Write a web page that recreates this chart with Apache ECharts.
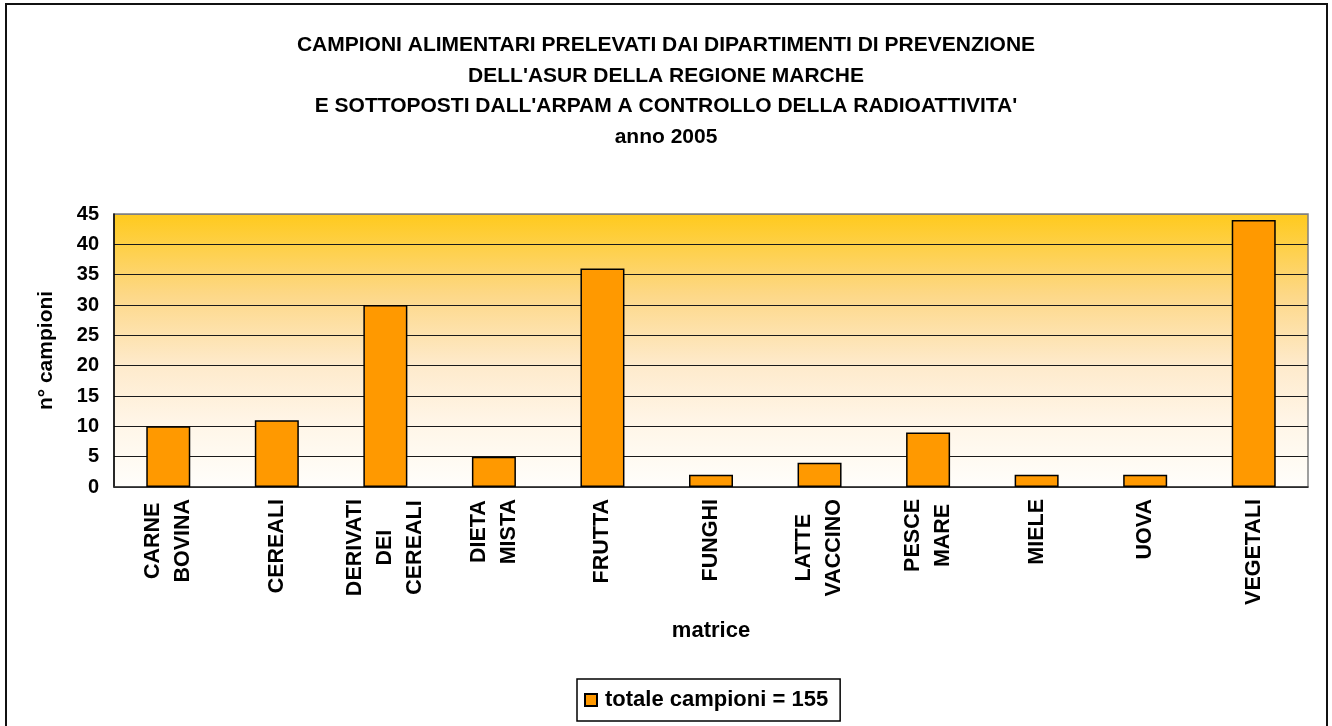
<!DOCTYPE html>
<html>
<head>
<meta charset="utf-8">
<title>Campioni alimentari 2005</title>
<script src="https://cdn.jsdelivr.net/npm/echarts@6/dist/echarts.min.js"></script>
<style>
  html, body { margin: 0; padding: 0; background: #fff; }
  #chart { width: 1332px; height: 726px; }
</style>
</head>
<body>
<div id="chart"></div>
<script>
// categorie (matrice) e numero di campioni
const categories = [
  'CARNE\nBOVINA', 'CEREALI', 'DERIVATI\nDEI\nCEREALI', 'DIETA\nMISTA', 'FRUTTA',
  'FUNGHI', 'LATTE\nVACCINO', 'PESCE\nMARE', 'MIELE', 'UOVA', 'VEGETALI'
]
const campioni = [10, 11, 30, 5, 36, 2, 4, 9, 2, 2, 44]
const yTicks = [0, 5, 10, 15, 20, 25, 30, 35, 40, 45]

const titleLines = [
  'CAMPIONI ALIMENTARI PRELEVATI DAI DIPARTIMENTI DI PREVENZIONE',
  "DELL'ASUR DELLA REGIONE MARCHE",
  "E SOTTOPOSTI DALL'ARPAM A CONTROLLO DELLA RADIOATTIVITA'",
  'anno 2005'
]
const seriesName = 'totale campioni = 155'

const font = '"Liberation Sans", Arial, Helvetica, sans-serif'

const chart = echarts.init(document.getElementById('chart'))

// split lines: dark, the top one grey like the plot border
const splitColors = yTicks.map((v, i) => (i === yTicks.length - 1 ? '#808080' : '#1a1a1a'))

const option = {
  backgroundColor: '#fff',
  animation: false,
  textStyle: { fontFamily: font },
  title: {
    text: titleLines.join('\n'),
    left: 'center',
    top: 25,
    textStyle: {
      fontFamily: font,
      fontSize: 21,
      fontWeight: 'bold',
      color: '#000',
      lineHeight: 30.5,
    },
  },
  graphic: [
    {
      type: 'rect',
      shape: { x: 6, y: 4, width: 1321, height: 760 },
      style: { fill: null, stroke: '#111', lineWidth: 2 },
      silent: true,
    },
  ],
  legend: {
    data: [seriesName],
    left: 577,
    top: 679,
    padding: [10, 12, 10, 7],
    borderColor: '#000',
    borderWidth: 1.5,
    itemWidth: 12,
    itemHeight: 12,
    icon: 'rect',
    textStyle: {
      fontFamily: font,
      fontSize: 22,
      fontWeight: 'bold',
      color: '#000',
      padding: [0, 0, 0, 3],
    },
  },
  grid: {
    left: 114,
    right: 24,
    top: 214,
    bottom: 239,
    show: true,
    borderColor: '#808080',
    borderWidth: 1.5,
    backgroundColor: {
      type: 'linear',
      x: 0, y: 0, x2: 0, y2: 1,
      colorStops: [
        { offset: 0, color: '#FFCA1C' },
        { offset: 0.3, color: '#FDD888' },
        { offset: 0.55, color: '#FEEACB' },
        { offset: 0.75, color: '#FFF5E6' },
        { offset: 1, color: '#FFFEFB' },
      ],
    },
  },
  xAxis: {
    type: 'category',
    data: categories,
    name: 'matrice',
    nameLocation: 'middle',
    nameGap: 133,
    nameTextStyle: { fontFamily: font, fontSize: 22, fontWeight: 'bold', color: '#000' },
    axisLine: { show: true, lineStyle: { color: '#333', width: 1.5 } },
    axisTick: { show: false },
    axisLabel: {
      interval: 0,
      rotate: 90,
      margin: 12,
      color: '#000',
      formatter: (v) => v.split('\n').map((s) => '{c|' + s + '}').join('\n'),
      rich: {
        c: {
          align: 'center',
          fontFamily: font,
          fontSize: 21.5,
          fontWeight: 'bold',
          color: '#000',
          lineHeight: 30,
        },
      },
    },
  },
  yAxis: {
    type: 'value',
    min: 0,
    max: 45,
    interval: 5,
    name: 'n° campioni',
    nameLocation: 'middle',
    nameRotate: 90,
    nameGap: 57,
    nameTextStyle: { fontFamily: font, fontSize: 21, fontWeight: 'bold', color: '#000' },
    axisLine: { show: true, lineStyle: { color: '#000', width: 1.5 } },
    axisTick: { show: false },
    axisLabel: {
      margin: 15,
      color: '#000',
      fontFamily: font,
      fontSize: 20,
      fontWeight: 'bold',
    },
    splitLine: { show: true, lineStyle: { color: splitColors, width: 1.2 } },
  },
  series: [
    {
      name: seriesName,
      type: 'bar',
      data: campioni,
      barWidth: 44,
      itemStyle: {
        color: '#FF9900',
        borderColor: '#000',
        borderWidth: 1.5,
      },
    },
  ],
}

chart.setOption(option)
</script>
</body>
</html>
